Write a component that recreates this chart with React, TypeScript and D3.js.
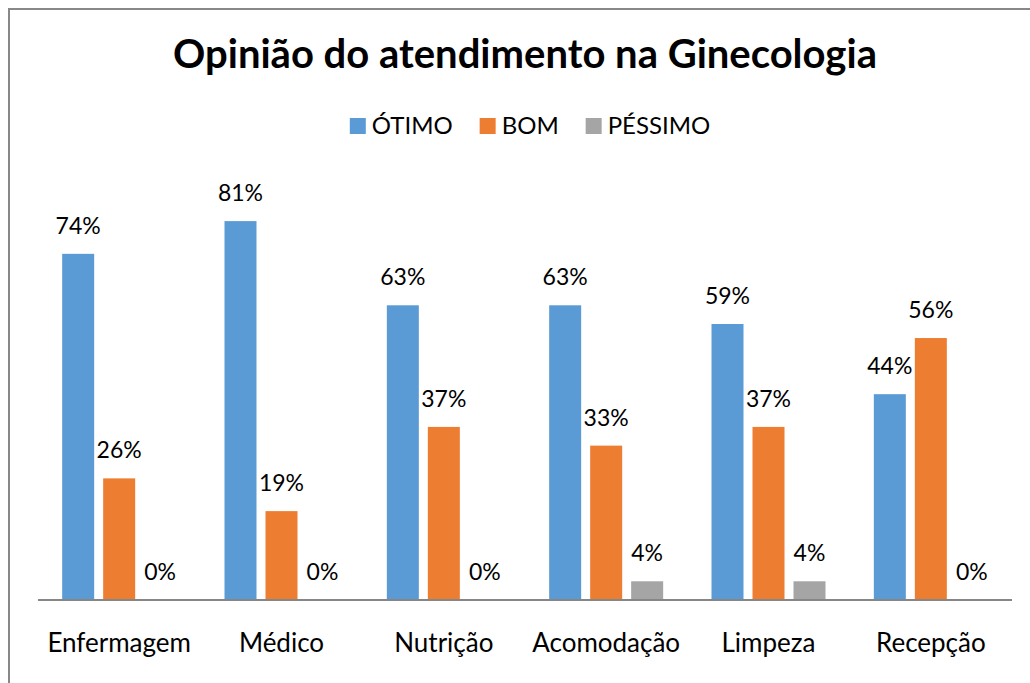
import { useRef, useEffect } from "react";
import * as d3 from "d3";

const categories = ["Enfermagem", "Médico", "Nutrição", "Acomodação", "Limpeza", "Recepção"];
const seriesNames = ["ÓTIMO", "BOM", "PÉSSIMO"];
const otimo = [74, 81, 63, 63, 59, 44];
const bom = [26, 19, 37, 33, 37, 56];
const pessimo = [0, 0, 0, 4, 4, 0];
const colors = ["#5B9BD5", "#ED7D31", "#A5A5A5"];
const title = "Opinião do atendimento na Ginecologia";

const FONT = "Lato, 'Open Sans', sans-serif";

const App = () => {
  const svgRef = useRef<SVGSVGElement>(null);

  useEffect(() => {
    const svg = d3.select(svgRef.current);
    svg.selectAll("*").remove();

    const width = 1030;
    const height = 683;
    const margin = { top: 179, left: 38, right: 18, bottom: 83 };
    const baseline = height - margin.bottom;

    // chart frame (partly cut off like the reference)
    svg
      .append("rect")
      .attr("x", 9)
      .attr("y", 9)
      .attr("width", width + 20)
      .attr("height", height + 20)
      .attr("fill", "#fff")
      .attr("stroke", "#888")
      .attr("stroke-width", 2);

    const x = d3
      .scaleBand()
      .domain(categories)
      .range([margin.left, width - margin.right])
      .padding(0);

    const xInner = d3
      .scaleBand()
      .domain(seriesNames)
      .range([-57, 57])
      .paddingInner(9 / 41)
      .paddingOuter(0);

    const y = d3.scaleLinear().domain([0, 90]).range([baseline, margin.top]);

    const series = [otimo, bom, pessimo];

    const groups = svg
      .append("g")
      .selectAll("g")
      .data(series)
      .join("g")
      .attr("fill", (_, i) => colors[i]);

    groups.each(function (vals, si) {
      const g = d3.select(this);
      const name = seriesNames[si];
      g.selectAll("rect")
        .data(vals)
        .join("rect")
        .attr("x", (_, ci) => x(categories[ci])! + x.bandwidth() / 2 + xInner(name)!)
        .attr("y", (d) => y(d))
        .attr("width", xInner.bandwidth())
        .attr("height", (d) => baseline - y(d));

      g.selectAll("text")
        .data(vals)
        .join("text")
        .attr("x", (_, ci) => x(categories[ci])! + x.bandwidth() / 2 + xInner(name)! + xInner.bandwidth() / 2)
        .attr("y", (d) => y(d) - 20)
        .attr("text-anchor", "middle")
        .attr("fill", "#000")
        .attr("font-family", FONT)
        .attr("font-size", 23)
        .text((d) => `${d}%`);
    });

    // axis line
    svg
      .append("line")
      .attr("x1", margin.left)
      .attr("x2", width - margin.right)
      .attr("y1", baseline)
      .attr("y2", baseline)
      .attr("stroke", "#868686")
      .attr("stroke-width", 2);

    // category labels
    svg
      .append("g")
      .selectAll("text")
      .data(categories)
      .join("text")
      .attr("x", (d) => x(d)! + x.bandwidth() / 2)
      .attr("y", 652)
      .attr("text-anchor", "middle")
      .attr("fill", "#000")
      .attr("font-family", FONT)
      .attr("font-size", 26)
      .text((d) => d);

    // title
    svg
      .append("text")
      .attr("x", 525)
      .attr("y", 68)
      .attr("text-anchor", "middle")
      .attr("font-family", FONT)
      .attr("font-weight", "bold")
      .attr("font-size", 40)
      .attr("fill", "#000")
      .text(title);

    // legend, centred
    const legend = svg.append("g");
    const sq = 16;
    const gapText = 6;
    const gapItem = 27;
    const items = seriesNames.map((n, i) => {
      const g = legend.append("g");
      g.append("rect").attr("width", sq).attr("height", sq).attr("y", 118).attr("fill", colors[i]);
      const t = g
        .append("text")
        .attr("x", sq + gapText)
        .attr("y", 134)
        .attr("font-family", FONT)
        .attr("font-size", 24)
        .attr("fill", "#000")
        .text(n);
      const w = (t.node() as SVGTextElement).getComputedTextLength();
      return { g, w: sq + gapText + w };
    });
    const total = d3.sum(items, (d) => d.w) + gapItem * (items.length - 1);
    let cx = 530 - total / 2;
    items.forEach((it) => {
      it.g.attr("transform", `translate(${cx},0)`);
      cx += it.w + gapItem;
    });
  }, []);

  return (
    <svg
      ref={svgRef}
      width={1030}
      height={683}
      style={{ position: "absolute", left: 0, top: 0, background: "#fff" }}
    />
  );
};

export default App;
